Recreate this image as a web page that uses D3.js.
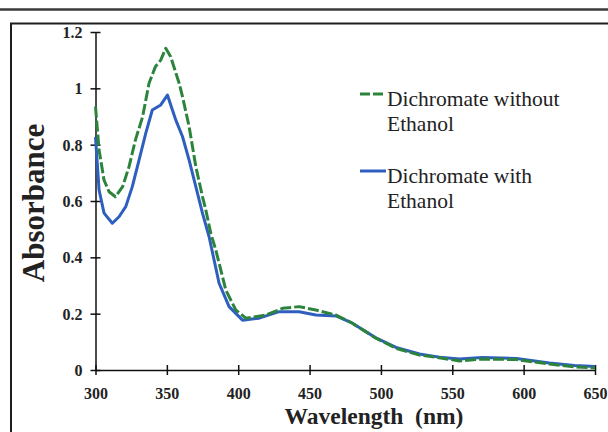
<!DOCTYPE html>
<html>
<head>
<meta charset="utf-8">
<script src="https://cdn.jsdelivr.net/npm/d3@7"></script>
<style>
  html, body { margin: 0; padding: 0; background: #fff; }
  svg { display: block; }
</style>
</head>
<body>
<div id="chart"></div>
<script>
// UV-Vis spectra
const waveGreen = [300, 302.5, 306, 309.5, 314, 319, 323.5, 328, 333, 337.5, 342, 345.7, 349.2, 352.7, 358.6, 361, 365.6, 370.3, 375, 377.3, 380.8, 384.3, 391.3, 398.3, 405.4, 419.4, 431, 442.7, 454.4, 468.5, 480, 496.5, 510.6, 527, 543, 555, 571, 595, 618, 635.6, 650];
const absGreen  = [0.935, 0.781, 0.674, 0.633, 0.615, 0.651, 0.722, 0.817, 0.899, 1.018, 1.077, 1.100, 1.142, 1.112, 1.018, 0.970, 0.864, 0.722, 0.615, 0.568, 0.485, 0.426, 0.284, 0.213, 0.184, 0.195, 0.219, 0.225, 0.213, 0.195, 0.166, 0.113, 0.077, 0.053, 0.042, 0.032, 0.039, 0.037, 0.021, 0.011, 0.007];

const waveBlue = [300, 302.5, 306, 311.8, 316.5, 321.2, 325.8, 330.5, 335.2, 339.8, 345.7, 350.4, 353.9, 356.3, 361, 365.6, 370.3, 375, 379.6, 386.6, 393.6, 403, 414.7, 428.7, 442.7, 454.4, 468.5, 480, 496.5, 510.6, 527, 543, 555, 571, 595, 618, 635.6, 650];
const absBlue  = [0.827, 0.639, 0.557, 0.521, 0.544, 0.580, 0.651, 0.745, 0.840, 0.923, 0.941, 0.976, 0.923, 0.887, 0.828, 0.745, 0.651, 0.556, 0.473, 0.308, 0.225, 0.177, 0.184, 0.207, 0.207, 0.195, 0.192, 0.166, 0.114, 0.080, 0.057, 0.044, 0.039, 0.044, 0.041, 0.025, 0.016, 0.012];

const xTicks = [300, 350, 400, 450, 500, 550, 600, 650];
const yTicks = [0, 0.2, 0.4, 0.6, 0.8, 1, 1.2];
const legendLabels = [["Dichromate without", "Ethanol"], ["Dichromate with", "Ethanol"]];

const GREEN = '#2c843c', BLUE = '#2e5fbe';
const W = 608, H = 432;
const SERIF = '"Liberation Serif", "Times New Roman", serif';

const svg = d3.select('#chart').append('svg')
  .attr('width', W).attr('height', H);

// outer page frame
svg.append('line').attr('x1', 0).attr('x2', W).attr('y1', 9.5).attr('y2', 9.5)
  .attr('stroke', '#3a3a3a').attr('stroke-width', 2.5);
svg.append('rect').attr('x', 11).attr('y', 23.5).attr('width', W + 10).attr('height', H)
  .attr('fill', '#fff').attr('stroke', '#1e1e1e').attr('stroke-width', 2);

const x = d3.scaleLinear().domain([300, 650]).range([95.5, 595]);
const y = d3.scaleLinear().domain([0, 1.2]).range([370, 32]);

// axes (Excel style: ticks cross the axis line)
const xAxis = svg.append('g').attr('transform', `translate(0,${y(0)})`)
  .call(d3.axisBottom(x).tickValues(xTicks).tickSize(5).tickSizeOuter(0).tickFormat(d3.format('d')));
xAxis.selectAll('.tick line').attr('y1', -5).attr('y2', 5);

const yAxis = svg.append('g').attr('transform', `translate(${x(300)},0)`)
  .call(d3.axisLeft(y).tickValues(yTicks).tickSize(5).tickSizeOuter(0).tickFormat(d => d === 0 ? '0' : (d === 1 ? '1' : d3.format('.1f')(d))));
yAxis.selectAll('.tick line').attr('x1', -5).attr('x2', 5);

[xAxis, yAxis].forEach(g => {
  g.select('.domain').attr('stroke', '#111').attr('stroke-width', 1.5);
  g.selectAll('.tick line').attr('stroke', '#111').attr('stroke-width', 1.5);
  g.selectAll('.tick text').attr('font-family', SERIF).attr('font-weight', 'bold')
    .attr('font-size', 16).attr('fill', '#222');
});
xAxis.selectAll('.tick text').attr('dy', '1.3em');
yAxis.selectAll('.tick text').attr('x', -13).attr('dy', '0.35em');

// series
const line = d3.line().x(d => x(d[0])).y(d => y(d[1]));
const green = d3.zip(waveGreen, absGreen);
const blue = d3.zip(waveBlue, absBlue);

svg.append('path').datum(blue).attr('d', line)
  .attr('fill', 'none').attr('stroke', BLUE).attr('stroke-width', 3)
  .attr('stroke-linejoin', 'round');
svg.append('path').datum(green).attr('d', line)
  .attr('fill', 'none').attr('stroke', GREEN).attr('stroke-width', 3)
  .attr('stroke-dasharray', '11,3').attr('stroke-linejoin', 'round');

// axis titles
svg.append('text').attr('x', 374).attr('y', 424).attr('text-anchor', 'middle')
  .attr('font-family', SERIF).attr('font-weight', 'bold').attr('font-size', 23.5)
  .attr('fill', '#222').text('Wavelength  (nm)').style('white-space', 'pre');
svg.append('text').attr('transform', 'translate(44,203) rotate(-90)').attr('text-anchor', 'middle')
  .attr('font-family', SERIF).attr('font-weight', 'bold').attr('font-size', 31)
  .attr('fill', '#222').text('Absorbance');

// legend
const leg = svg.append('g');
[[GREEN, '11,3', 94], [BLUE, null, 171]].forEach(([c, dash, ly], i) => {
  leg.append('line').attr('x1', 360).attr('x2', 386).attr('y1', ly).attr('y2', ly)
    .attr('stroke', c).attr('stroke-width', 3).attr('stroke-dasharray', dash ? '10,3' : null);
  legendLabels[i].forEach((t, j) => {
    leg.append('text').attr('x', 387).attr('y', ly + 12 + j * 25)
      .attr('font-family', SERIF).attr('font-size', 21.5).attr('fill', '#222').text(t);
  });
});
</script>
</body>
</html>
